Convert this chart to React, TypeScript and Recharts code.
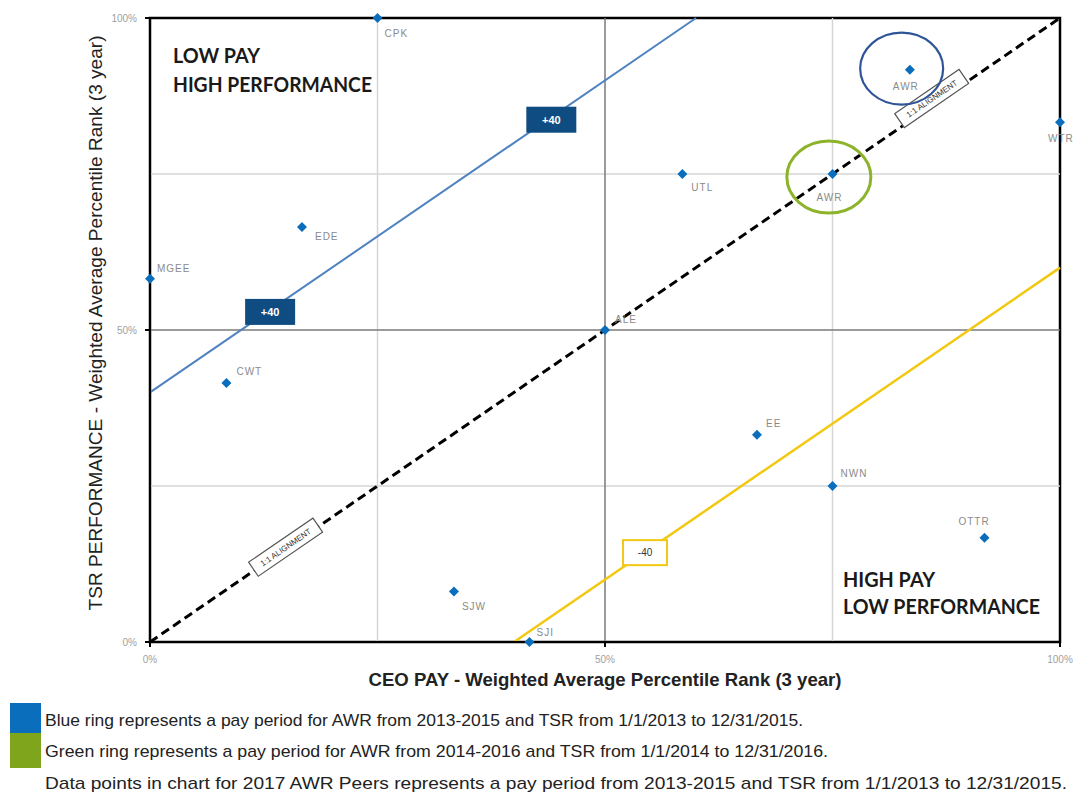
import React from "react";
import {
  ScatterChart,
  Scatter,
  XAxis,
  YAxis,
  ReferenceLine,
  ReferenceDot,
  ReferenceArea,
  Label,
} from "recharts";

// peers: CEO pay percentile (x) vs TSR percentile (y)
const tickers = ["CPK", "AWR", "WTR", "UTL", "AWR", "EDE", "MGEE", "CWT", "ALE", "EE", "NWN", "OTTR", "SJW", "SJI"];
const ceoPay = [25, 83.5, 100, 58.5, 75, 16.7, 0, 8.4, 50, 66.7, 75, 91.7, 33.4, 41.7];
const tsrRank = [100, 91.7, 83.3, 75, 75, 66.5, 58.2, 41.5, 50, 33.2, 25, 16.7, 8.1, 0];

const xTicks = [0, 50, 100];
const yTicks = [0, 50, 100];
const minorGrid = [25, 75];

// +40 / -40 band and the 1:1 line
const upperBand = [{ x: 0, y: 40 }, { x: 60, y: 100 }];
const lowerBand = [{ x: 40, y: 0 }, { x: 100, y: 60 }];
const alignment = [{ x: 0, y: 0 }, { x: 100, y: 100 }];

// AWR rings: blue = 2013-2015, green = 2014-2016
const ringX = [82.6, 74.6];
const ringY = [91.9, 74.5];

const legendLines = [
  "Blue ring represents a pay period for AWR from 2013-2015 and TSR from 1/1/2013 to 12/31/2015.",
  "Green ring represents a pay period for AWR from 2014-2016 and TSR from 1/1/2014 to 12/31/2016.",
  "Data points in chart for 2017 AWR Peers represents a pay period from 2013-2015 and TSR from 1/1/2013 to 12/31/2015.",
];

const points = tickers.map((name, i) => ({ name, pay: ceoPay[i], tsr: tsrRank[i], i }));

const FONT = "'Liberation Sans', Arial, sans-serif";
const W = 1075;
const CHART_H = 700;
const M = { top: 18, right: 15, bottom: 28, left: 0 };
const Y_W = 150;
const X_H = 30;
const PLOT_W = W - M.left - M.right - Y_W;
const PLOT_H = CHART_H - M.top - M.bottom - X_H;
const TILT = (-Math.atan2(PLOT_H, PLOT_W) * 180) / Math.PI;

// where each ticker label sits relative to its point
const labelAt: [number, number, "start" | "middle"][] = [
  [7, 15, "start"],
  [-4, 17, "middle"],
  [-12, 16, "start"],
  [9, 13, "start"],
  [-3, 23, "middle"],
  [13, 9, "start"],
  [7, -10, "start"],
  [10, -12, "start"],
  [10, -11, "start"],
  [9, -11, "start"],
  [8, -13, "start"],
  [-26, -16, "start"],
  [8, 15, "start"],
  [7, -10, "start"],
];

function Diamond(props: any) {
  const { cx, cy, payload } = props;
  const [dx, dy, anchor] = labelAt[payload.i];
  const r = 5;
  return (
    <g>
      <polygon
        points={`${cx},${cy - r} ${cx + r},${cy} ${cx},${cy + r} ${cx - r},${cy}`}
        fill="#0a6ebd"
      />
      <text
        x={cx + dx}
        y={cy + dy}
        dominantBaseline="central"
        textAnchor={anchor}
        fontSize={10}
        letterSpacing={1}
        fill="#8a8a8a"
        fontFamily={FONT}
      >
        {payload.name}
      </text>
    </g>
  );
}

const plusBox = (p: any) => (
  <g>
    <rect x={p.cx - 25} y={p.cy - 13} width={50} height={26} fill="#0f4c81" />
    <text x={p.cx} y={p.cy + 4} textAnchor="middle" fontSize={11} fontWeight="bold" fill="#fff" fontFamily={FONT}>
      +40
    </text>
  </g>
);

const minusBox = (p: any) => (
  <g>
    <rect x={p.cx - 22} y={p.cy - 12} width={44} height={25} fill="#fff" stroke="#f2c811" strokeWidth={2} />
    <text x={p.cx} y={p.cy + 4} textAnchor="middle" fontSize={10} fill="#333" fontFamily={FONT}>
      -40
    </text>
  </g>
);

const alignBox = (p: any) => (
  <g transform={`rotate(${TILT} ${p.cx} ${p.cy})`}>
    <rect x={p.cx - 39} y={p.cy - 8.5} width={78} height={17} fill="#fff" stroke="#555" strokeWidth={1.2} />
    <text x={p.cx} y={p.cy + 3} textAnchor="middle" fontSize={8} fill="#333" fontFamily={FONT}>
      1:1 ALIGNMENT
    </text>
  </g>
);

const ring = (color: string, rx: number, ry: number, sw: number) => (p: any) =>
  <ellipse cx={p.cx} cy={p.cy} rx={rx} ry={ry} fill="none" stroke={color} strokeWidth={sw} />;

const XTitle = (props: any) => {
  const vb = props.viewBox;
  const x = vb.x + vb.width / 2;
  return (
    <text x={x} y={vb.y + 44} textAnchor="middle" fontSize={19} fontWeight="bold" fill="#222" fontFamily={FONT}
      textLength={473} lengthAdjust="spacingAndGlyphs">
      CEO PAY - Weighted Average Percentile Rank (3 year)
    </text>
  );
};

const YTitle = (props: any) => {
  const vb = props.viewBox;
  const x = vb.x + vb.width - 48;
  const y = vb.y + vb.height / 2 - 7;
  return (
    <text x={x} y={y} transform={`rotate(-90 ${x} ${y})`} textAnchor="middle" fontSize={18} fill="#222"
      fontFamily={FONT} textLength={575} lengthAdjust="spacingAndGlyphs">
      TSR PERFORMANCE - Weighted Average Percentile Rank (3 year)
    </text>
  );
};

const quadStyle = { fontSize: 20, fontWeight: 700, fill: "#1a1a1a", fontFamily: "Lato, sans-serif" } as const;

const TopLeftText = (props: any) => {
  const vb = props.viewBox;
  return (
    <g>
      <text x={vb.x + 23} y={vb.y + 45} {...quadStyle} textLength={87} lengthAdjust="spacingAndGlyphs">LOW PAY</text>
      <text x={vb.x + 23} y={vb.y + 74} {...quadStyle} textLength={199} lengthAdjust="spacingAndGlyphs">HIGH PERFORMANCE</text>
    </g>
  );
};

const BottomRightText = (props: any) => {
  const vb = props.viewBox;
  const b = vb.y + vb.height;
  return (
    <g>
      <text x={vb.x + 238} y={b - 55} {...quadStyle} textLength={92} lengthAdjust="spacingAndGlyphs">HIGH PAY</text>
      <text x={vb.x + 238} y={b - 28} {...quadStyle} textLength={197} lengthAdjust="spacingAndGlyphs">LOW PERFORMANCE</text>
    </g>
  );
};

const tickStyle = { fontSize: 10, fill: "#a0a0a0", fontFamily: FONT };
const legendWidths = [758, 783, 1022];

export default function App() {
  return (
    <div style={{ position: "absolute", left: 0, top: 0, width: W, height: 794, background: "#fff" }}>
      <ScatterChart width={W} height={CHART_H} margin={M}>
        <XAxis
          type="number"
          dataKey="pay"
          domain={[0, 100]}
          ticks={xTicks}
          tickFormatter={(v) => `${v}%`}
          tick={tickStyle}
          tickSize={5}
          tickMargin={9}
          height={X_H}
          stroke="#000"
          strokeWidth={2}
        >
          <Label content={XTitle} />
        </XAxis>
        <YAxis
          type="number"
          dataKey="tsr"
          domain={[0, 100]}
          ticks={yTicks}
          tickFormatter={(v) => `${v}%`}
          tick={tickStyle}
          tickSize={5}
          tickMargin={8}
          width={Y_W}
          stroke="#000"
          strokeWidth={2}
        >
          <Label content={YTitle} />
        </YAxis>

        {minorGrid.map((v) => (
          <ReferenceLine key={"gx" + v} x={v} stroke="#d6d6d6" strokeWidth={1.5} />
        ))}
        {minorGrid.map((v) => (
          <ReferenceLine key={"gy" + v} y={v} stroke="#d6d6d6" strokeWidth={1.5} />
        ))}
        <ReferenceLine x={50} stroke="#7a7a7a" strokeWidth={1.5} />
        <ReferenceLine y={50} stroke="#7a7a7a" strokeWidth={1.5} />

        <ReferenceArea x1={0} x2={50} y1={50} y2={100} fill="none" stroke="none">
          <Label content={TopLeftText} />
        </ReferenceArea>
        <ReferenceArea x1={50} x2={100} y1={0} y2={50} fill="none" stroke="none">
          <Label content={BottomRightText} />
        </ReferenceArea>
        <ReferenceArea x1={0} x2={100} y1={0} y2={100} fill="none" stroke="#000" strokeWidth={2.5} />

        <ReferenceLine segment={upperBand} stroke="#4f82c0" strokeWidth={2} />
        <ReferenceLine segment={lowerBand} stroke="#f2c811" strokeWidth={2.5} />
        <ReferenceLine segment={alignment} stroke="#000" strokeWidth={3} strokeDasharray="9 5" />

        <ReferenceDot x={44.1} y={83.7} shape={plusBox} />
        <ReferenceDot x={13.2} y={52.9} shape={plusBox} />
        <ReferenceDot x={54.4} y={14.4} shape={minusBox} />
        <ReferenceDot x={85.9} y={87.1} shape={alignBox} />
        <ReferenceDot x={14.9} y={15.2} shape={alignBox} />

        <ReferenceDot x={ringX[0]} y={ringY[0]} shape={ring("#2f5597", 41.5, 36, 2.2)} />
        <ReferenceDot x={ringX[1]} y={ringY[1]} shape={ring("#8db32a", 42, 36, 3)} />

        <Scatter data={points} shape={Diamond} isAnimationActive={false} />
      </ScatterChart>

      <svg width={W} height={104} style={{ position: "absolute", left: 0, top: 690 }}>
        <rect x={10} y={13} width={31} height={30} fill="#0a6ebd" />
        <rect x={10} y={43} width={31} height={35} fill="#7fa51d" />
        {legendLines.map((t, i) => (
          <text
            key={i}
            x={45}
            y={[36, 67, 99][i]}
            fontSize={17}
            fill="#222"
            fontFamily={FONT}
            textLength={legendWidths[i]}
            lengthAdjust="spacingAndGlyphs"
          >
            {t}
          </text>
        ))}
      </svg>
    </div>
  );
}
